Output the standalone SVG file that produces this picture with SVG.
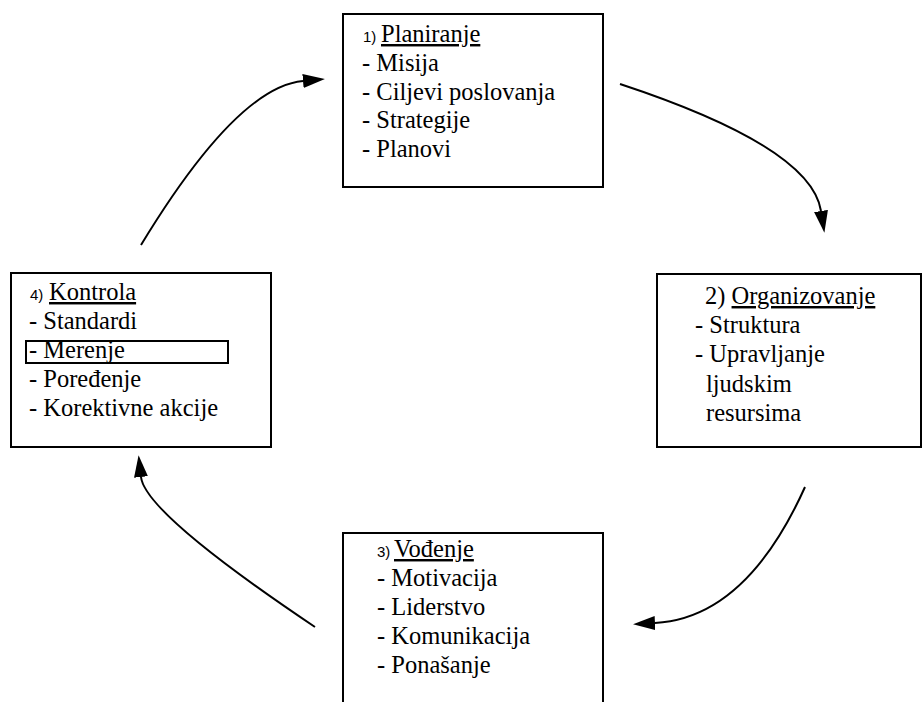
<svg xmlns="http://www.w3.org/2000/svg" width="924" height="702" viewBox="0 0 924 702">
  <style>
    .box { fill: #ffffff; stroke: #000000; stroke-width: 2; }
    .t { font-family: "Liberation Serif", "Times New Roman", serif; font-size: 24.5px; fill: #000000; }
    .n { font-family: "Liberation Sans", Arial, sans-serif; font-size: 15px; fill: #000000; }
    .u { text-decoration: underline; }
    .conn { fill: none; stroke: #000000; stroke-width: 2; }
    .hl { fill: none; stroke: #000000; stroke-width: 2; }
  </style>
  <defs>
    <marker id="arrow" viewBox="0 0 22 14" refX="0" refY="7" markerWidth="22" markerHeight="14" markerUnits="userSpaceOnUse" orient="auto">
      <path d="M0,0 L22,7 L0,14 Z" fill="#000000"/>
    </marker>
  </defs>
  <rect x="0" y="0" width="924" height="702" fill="#ffffff"/>

  <g id="connectors">
    <path class="conn" d="M141,245 Q237,87 303,81" marker-end="url(#arrow)"/>
    <path class="conn" d="M620,84 Q811,147 821,211" marker-end="url(#arrow)"/>
    <path class="conn" d="M805,487 Q746,618 655,623" marker-end="url(#arrow)"/>
    <path class="conn" d="M315,627 Q145,513 141,477" marker-end="url(#arrow)"/>
  </g>

  <g id="planiranje">
    <rect class="box" x="343" y="14" width="260" height="173"/>
    <text class="n" x="363" y="42">1)</text>
    <text class="t" x="381" y="42"><tspan class="u">Planiranje</tspan></text>
    <text class="t" x="362" y="71">- Misija</text>
    <text class="t" x="362" y="99.5">- Ciljevi poslovanja</text>
    <text class="t" x="362" y="128">- Strategije</text>
    <text class="t" x="362" y="157">- Planovi</text>
  </g>

  <g id="organizovanje">
    <rect class="box" x="657" y="274" width="264" height="173"/>
    <text class="t" x="705" y="304">2) <tspan class="u">Organizovanje</tspan></text>
    <text class="t" x="695" y="333">- Struktura</text>
    <text class="t" x="695" y="362">- Upravljanje</text>
    <text class="t" x="706" y="392">ljudskim</text>
    <text class="t" x="706" y="421">resursima</text>
  </g>

  <g id="vodjenje">
    <rect class="box" x="343" y="533" width="260" height="180"/>
    <text class="n" x="377" y="557">3)</text>
    <text class="t" x="394" y="557"><tspan class="u">Vođenje</tspan></text>
    <text class="t" x="377" y="586">- Motivacija</text>
    <text class="t" x="377" y="615">- Liderstvo</text>
    <text class="t" x="377" y="644">- Komunikacija</text>
    <text class="t" x="377" y="673">- Ponašanje</text>
  </g>

  <g id="kontrola">
    <rect class="box" x="11" y="273" width="260" height="174"/>
    <text class="n" x="30" y="300">4)</text>
    <text class="t" x="49" y="300"><tspan class="u">Kontrola</tspan></text>
    <text class="t" x="29" y="329">- Standardi</text>
    <rect class="hl" x="26" y="341" width="202" height="22"/>
    <text class="t" x="29" y="358">- Merenje</text>
    <text class="t" x="29" y="387">- Poređenje</text>
    <text class="t" x="29" y="416">- Korektivne akcije</text>
  </g>
</svg>
